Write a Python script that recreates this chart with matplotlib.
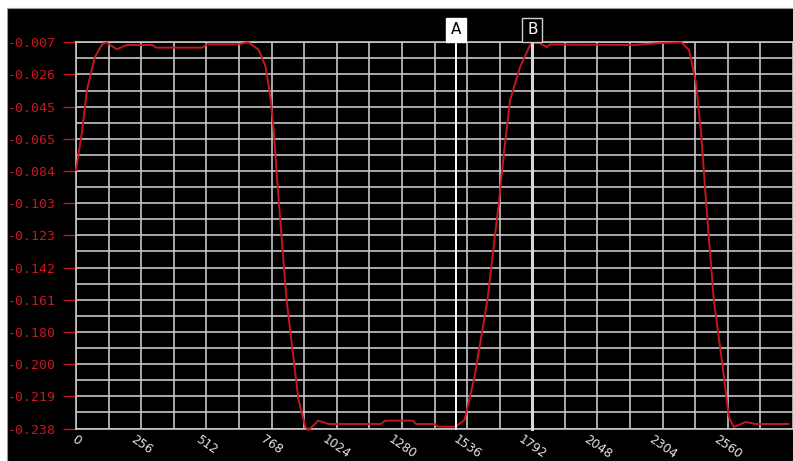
import matplotlib
matplotlib.use("Agg")
import numpy as np
import matplotlib.pyplot as plt
import matplotlib.patches as mpatches
import matplotlib.transforms as mtransforms

# sampled trace (sample index, value)
sample_idx = [0, 23, 43, 74, 105, 121, 160, 199, 300, 316,
              496, 515, 640, 667, 679, 718, 745, 765, 777, 796,
              827, 874, 901, 913, 952, 991, 1198, 1214, 1323, 1335,
              1409, 1420, 1491, 1526, 1565, 1616, 1662, 1682, 1705, 1744,
              1780, 1792, 1822, 1850, 1861, 2189, 2279, 2377, 2408, 2435,
              2455, 2474, 2505, 2540, 2564, 2583, 2603, 2630, 2669, 2798]
signal = [-0.0834, -0.0612, -0.0355, -0.0158, -0.0077, -0.0072, -0.0112, -0.0086, -0.0086, -0.0102,
          -0.0102, -0.0082, -0.0082, -0.0072, -0.0072, -0.0116, -0.0218, -0.0415, -0.0613, -0.1013,
          -0.1611, -0.2209, -0.2371, -0.2389, -0.2333, -0.2353, -0.2353, -0.2333, -0.2333, -0.2353,
          -0.2353, -0.2369, -0.2369, -0.2329, -0.2072, -0.1611, -0.1013, -0.0714, -0.0415, -0.0218,
          -0.0098, -0.0071, -0.0077, -0.0098, -0.0083, -0.0086, -0.0076, -0.0070, -0.0116, -0.0313,
          -0.0613, -0.1013, -0.1611, -0.2012, -0.2311, -0.2371, -0.2359, -0.2341, -0.2353, -0.2353]

# cursors
cursor_names = ["A", "B"]
cursor_pos = [1491, 1792]

# axes ticks
x_ticks = list(range(0, 2561, 256))
x_minor = list(range(0, 2817, 128))
y_min, y_max = -0.238, -0.007
y_labels = ["-0.238", "-0.219", "-0.200", "-0.180", "-0.161", "-0.142", "-0.123",
            "-0.103", "-0.084", "-0.065", "-0.045", "-0.026", "-0.007"]

RED = "#c8161f"
GRID = "#c6c6c6"

W, H = 793, 461
fig = plt.figure(figsize=(W / 100, H / 100), dpi=100, facecolor="white")

# black panel with thin grey frame on top/left
fig.patches.append(mpatches.Rectangle((7 / W, 0), 1, (H - 8) / H, transform=fig.transFigure,
                                      facecolor="black", edgecolor="#9a9a9a", linewidth=0.8,
                                      zorder=0))

ax = fig.add_axes([76 / W, (H - 428.5) / H, (W - 76) / W, (428.5 - 42.3) / H])
ax.set_zorder(2)
ax.set_facecolor("black")
ax.set_xlim(0, 2798)
ax.set_ylim(y_min, y_max)

y_ticks = np.linspace(y_min, y_max, len(y_labels))
y_minor = (y_ticks[:-1] + y_ticks[1:]) / 2

ax.set_xticks(x_ticks)
ax.set_xticks(x_minor, minor=True)
ax.set_yticks(y_ticks)
ax.set_yticks(y_minor, minor=True)
ax.set_yticklabels(y_labels, color=RED, fontsize=9.5, family="DejaVu Sans Mono")
ax.set_xticklabels([str(t) for t in x_ticks], color="#e6e6e6", fontsize=8.7,
                   rotation=-35, ha="center", va="top")

# shift x labels a bit to the right
offset = mtransforms.ScaledTranslation(4 / 100, 0, fig.dpi_scale_trans)
for lbl in ax.get_xticklabels():
    lbl.set_transform(lbl.get_transform() + offset)

ax.tick_params(axis="y", which="major", length=9.5, width=1.0, color=RED, pad=5)
ax.tick_params(axis="y", which="minor", length=0)
ax.tick_params(axis="x", which="both", length=0, pad=3)

ax.grid(True, which="both", color=GRID, linewidth=1.2)
ax.set_axisbelow(True)

for side in ("top", "left", "bottom"):
    ax.spines[side].set_color(GRID)
    ax.spines[side].set_linewidth(1.2)
ax.spines["right"].set_visible(False)

ax.plot(sample_idx, signal, color=RED, linewidth=1.4, zorder=4, clip_on=False)

# cursor lines and their tags
cursor_styles = {
    "A": dict(line="#ffffff", lw=1.4, fc="white", ec="white", tc="black"),
    "B": dict(line="#d8d8d8", lw=2.2, fc="black", ec="#d0d0d0", tc="white"),
}
for name, pos in zip(cursor_names, cursor_pos):
    st = cursor_styles[name]
    ax.axvline(pos, ymin=0, ymax=1.005, color=st["line"], linewidth=st["lw"],
               zorder=5, clip_on=False)
    ax.annotate(name, xy=(pos, 1.0), xycoords=("data", "axes fraction"),
                xytext=(0, 3.5), textcoords="offset points",
                ha="center", va="bottom", fontsize=11, color=st["tc"],
                bbox=dict(boxstyle="square,pad=0.32", fc=st["fc"], ec=st["ec"], lw=1.0),
                zorder=6)

fig.savefig("out.png", dpi=100, facecolor="white")
